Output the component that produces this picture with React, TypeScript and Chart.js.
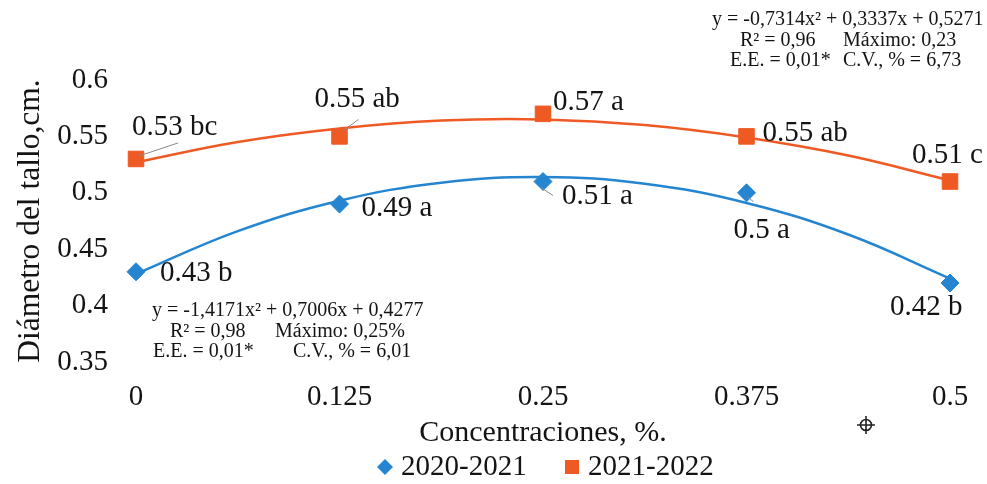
import { useEffect, useRef } from 'react';
import { Chart, registerables } from 'chart.js';

Chart.register(...registerables);

// ---- data ----
const concentrations = [0, 0.125, 0.25, 0.375, 0.5];
const xTickLabels = ['0', '0.125', '0.25', '0.375', '0.5'];
const yTickLabels = ['0.35', '0.4', '0.45', '0.5', '0.55', '0.6'];
const series2020Label = '2020-2021';
const series2021Label = '2021-2022';
const values2020 = [0.43, 0.49, 0.51, 0.5, 0.42];
const values2021 = [0.53, 0.55, 0.57, 0.55, 0.51];
const letters2020 = ['b', 'a', 'a', 'a', 'b'];
const letters2021 = ['bc', 'ab', 'a', 'ab', 'c'];
const trendX = [0, 0.0625, 0.125, 0.1875, 0.25, 0.3125, 0.375, 0.4375, 0.5];
const trend2020 = [0.428, 0.466, 0.493, 0.509, 0.514, 0.508, 0.491, 0.463, 0.424];
const trend2021 = [0.527, 0.545, 0.557, 0.564, 0.565, 0.56, 0.549, 0.533, 0.511];
const equation2020 = ['y = -1,4171x² + 0,7006x + 0,4277', 'R² = 0,98', 'Máximo: 0,25%', 'E.E. = 0,01*', 'C.V., % = 6,01'];
const equation2021 = ['y = -0,7314x² + 0,3337x + 0,5271', 'R² = 0,96', 'Máximo: 0,23', 'E.E. = 0,01*', 'C.V., % = 6,73'];
const xTitle = 'Concentraciones, %.';
const yTitle = 'Diámetro del tallo,cm.';

// ---- styling / layout ----
const BLUE = '#2585d0';
const ORANGE = '#ef5a24';
const FONT = '"Liberation Serif", "Times New Roman", serif';
const TEXT = '#141414';

// label offsets relative to the point (text left, text middle)
const labelOffsets2020 = [[24, 2], [22, 4], [19, 15], [-13, 38], [-60, 24]];
const labelOffsets2021 = [[-4, -32], [-25, -37], [10, -11], [16, -3], [-38, -26]];
const leaders2020: (number[] | null)[] = [null, null, [-2, 6, 10, 14], [1, 4, 7, 9], null];
const leaders2021: (number[] | null)[] = [[3, -3, 42, -16], [3, -5, 19, -17], null, null, null];
// equation text placement: [left x, middle y]
const eqPos2020 = [[152, 311], [170, 332], [275, 332], [153, 352], [293, 352]];
const eqPos2021 = [[712, 20], [740, 41], [843, 41], [730, 61], [843, 61]];

const overlayPlugin = {
  id: 'overlay',
  afterDatasetsDraw(chart: any) {
    const ctx = chart.ctx;
    ctx.save();
    const groups = [
      { ds: 2, values: values2020, letters: letters2020, offs: labelOffsets2020, leaders: leaders2020 },
      { ds: 3, values: values2021, letters: letters2021, offs: labelOffsets2021, leaders: leaders2021 },
    ];
    for (const g of groups) {
      const meta = chart.getDatasetMeta(g.ds);
      g.values.forEach((v, j) => {
        const el = meta.data[j];
        if (!el) return;
        const px = el.x;
        const py = el.y;
        const ld = g.leaders[j];
        if (ld) {
          ctx.strokeStyle = '#8a8a8a';
          ctx.lineWidth = 1;
          ctx.beginPath();
          ctx.moveTo(px + ld[0], py + ld[1]);
          ctx.lineTo(px + ld[2], py + ld[3]);
          ctx.stroke();
        }
        ctx.fillStyle = TEXT;
        ctx.font = `29px ${FONT}`;
        ctx.textAlign = 'left';
        ctx.textBaseline = 'middle';
        ctx.fillText(`${v} ${g.letters[j]}`, px + g.offs[j][0], py + g.offs[j][1]);
      });
    }
    // equations
    ctx.font = `20px ${FONT}`;
    ctx.fillStyle = TEXT;
    ctx.textAlign = 'left';
    ctx.textBaseline = 'middle';
    equation2020.forEach((t, i) => ctx.fillText(t, eqPos2020[i][0], eqPos2020[i][1]));
    equation2021.forEach((t, i) => ctx.fillText(t, eqPos2021[i][0], eqPos2021[i][1]));

    // legend
    const legendY = 467;
    const items = [
      { ds: 2, x: 385 },
      { ds: 3, x: 572 },
    ];
    items.forEach((it) => {
      const d = chart.data.datasets[it.ds];
      ctx.fillStyle = d.backgroundColor;
      ctx.beginPath();
      if (d.pointStyle === 'rectRot') {
        const r = 8;
        ctx.moveTo(it.x - r, legendY);
        ctx.lineTo(it.x, legendY - r);
        ctx.lineTo(it.x + r, legendY);
        ctx.lineTo(it.x, legendY + r);
        ctx.closePath();
      } else {
        const s = 7;
        ctx.rect(it.x - s, legendY - s, 2 * s, 2 * s);
      }
      ctx.fill();
      ctx.fillStyle = TEXT;
      ctx.font = `29px ${FONT}`;
      ctx.fillText(d.label, it.x + 16, legendY);
    });

    // small cross-hair glyph
    const cx = 866, cy = 425;
    ctx.strokeStyle = '#222';
    ctx.lineWidth = 1.6;
    ctx.beginPath();
    ctx.arc(cx, cy, 5.5, 0, Math.PI * 2);
    ctx.moveTo(cx - 9, cy);
    ctx.lineTo(cx + 9, cy);
    ctx.moveTo(cx, cy - 9);
    ctx.lineTo(cx, cy + 9);
    ctx.stroke();
    ctx.restore();
  },
};

export default function App() {
  const ref = useRef<HTMLCanvasElement | null>(null);
  useEffect(() => {
    if (!ref.current) return;
    const chart = new Chart(ref.current, {
      type: 'scatter',
      data: {
        datasets: [
          {
            label: 'trend ' + series2020Label,
            data: trendX.map((x, i) => ({ x, y: trend2020[i] })),
            showLine: true,
            borderColor: BLUE,
            borderWidth: 2.5,
            pointRadius: 0,
            tension: 0.4,
            clip: false,
          },
          {
            label: 'trend ' + series2021Label,
            data: trendX.map((x, i) => ({ x, y: trend2021[i] })),
            showLine: true,
            borderColor: ORANGE,
            borderWidth: 2.5,
            pointRadius: 0,
            tension: 0.4,
            clip: false,
          },
          {
            label: series2020Label,
            data: concentrations.map((x, i) => ({ x, y: values2020[i] })),
            showLine: false,
            pointStyle: 'rectRot',
            pointRadius: 9,
            backgroundColor: BLUE,
            borderColor: BLUE,
            borderWidth: 1,
            clip: false,
          },
          {
            label: series2021Label,
            data: concentrations.map((x, i) => ({ x, y: values2021[i] })),
            showLine: false,
            pointStyle: 'rect',
            pointRadius: 11,
            backgroundColor: ORANGE,
            borderColor: ORANGE,
            borderWidth: 1,
            clip: false,
          },
        ],
      },
      options: {
        responsive: false,
        animation: false,
        events: [],
        layout: { padding: { left: 0, right: 37, top: 80, bottom: 20 } },
        plugins: {
          legend: { display: false },
          tooltip: { enabled: false },
        },
        scales: {
          x: {
            type: 'linear',
            min: 0,
            max: 0.5,
            grid: { display: false, drawTicks: false },
            border: { display: false },
            afterFit: (s: any) => { s.height = 102; },
            afterBuildTicks: (s: any) => {
              s.ticks = concentrations.map((v) => ({ value: v }));
            },
            ticks: {
              padding: 18,
              color: TEXT,
              font: { family: FONT, size: 29 },
              callback: (v: any) => {
                const i = concentrations.indexOf(Number(v));
                return i >= 0 ? xTickLabels[i] : '';
              },
            },
            title: {
              display: true,
              text: xTitle,
              color: TEXT,
              font: { family: FONT, size: 30 },
              padding: { top: 0, bottom: 13 },
            },
          },
          y: {
            min: 0.35,
            max: 0.6,
            grid: { display: false, drawTicks: false },
            border: { display: false },
            afterFit: (s: any) => { s.width = 136; },
            afterBuildTicks: (s: any) => {
              s.ticks = yTickLabels.map((t) => ({ value: Number(t) }));
            },
            ticks: {
              padding: 28,
              color: TEXT,
              font: { family: FONT, size: 29 },
              callback: (v: any) => {
                const i = yTickLabels.findIndex((t) => Math.abs(Number(t) - Number(v)) < 1e-9);
                return i >= 0 ? yTickLabels[i] : '';
              },
            },
            title: {
              display: true,
              text: yTitle,
              color: TEXT,
              font: { family: FONT, size: 31.5 },
              padding: { top: 12, bottom: 0 },
            },
          },
        },
      },
      plugins: [overlayPlugin],
    } as any);
    return () => chart.destroy();
  }, []);
  return (
    <div style={{ position: 'fixed', left: 0, top: 0, width: 987, height: 484, background: '#fff', overflow: 'hidden' }}>
      <canvas ref={ref} width={987} height={484} style={{ display: 'block' }} />
    </div>
  );
}
